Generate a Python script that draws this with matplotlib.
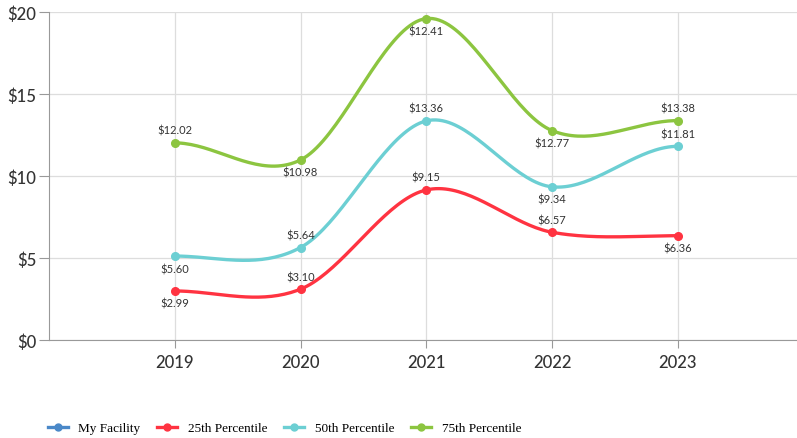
import numpy as np
import matplotlib.pyplot as plt
from matplotlib.lines import Line2D

years = ["2019", "2020", "2021", "2022", "2023"]

# point heights as drawn in the reference
p25 = [2.99, 3.10, 9.15, 6.57, 6.36]
p50 = [5.12, 5.64, 13.36, 9.34, 11.81]
p75 = [12.02, 10.98, 19.6, 12.77, 13.38]

# labels as printed
lab25 = ["$2.99", "$3.10", "$9.15", "$6.57", "$6.36"]
lab50 = ["$5.60", "$5.64", "$13.36", "$9.34", "$11.81"]
lab75 = ["$12.02", "$10.98", "$12.41", "$12.77", "$13.38"]

# label above (1) or below (-1) the point
pos25 = [-1, 1, 1, 1, -1]
pos50 = [-1, 1, 1, -1, 1]
pos75 = [1, -1, -1, -1, 1]

series = [
    ("25th Percentile", p25, lab25, pos25, "#ff3341"),
    ("50th Percentile", p50, lab50, pos50, "#6ccfd3"),
    ("75th Percentile", p75, lab75, pos75, "#8cc540"),
]


def spline(y, n=40):
    # cubic hermite through the points, flat at the ends
    y = np.asarray(y, float)
    x = np.arange(len(y), dtype=float)
    m = np.zeros_like(y)
    m[1:-1] = (y[2:] - y[:-2]) / 2
    xs, ys = [], []
    for i in range(len(y) - 1):
        t = np.linspace(0, 1, n)
        h00 = 2*t**3 - 3*t**2 + 1
        h10 = t**3 - 2*t**2 + t
        h01 = -2*t**3 + 3*t**2
        h11 = t**3 - t**2
        xs.append(x[i] + t)
        ys.append(h00*y[i] + h10*m[i] + h01*y[i+1] + h11*m[i+1])
    return np.concatenate(xs), np.concatenate(ys)


fig = plt.figure(figsize=(7.97, 4.39), dpi=100)
ax = fig.add_axes([0.0615, 0.2232, 0.9467, 0.7472])

x = np.arange(len(years))
for name, vals, labs, pos, col in series:
    sx, sy = spline(vals)
    ax.plot(sx, sy, color=col, lw=2.4, solid_capstyle="round", zorder=3)
    ax.plot(x, vals, "o", color=col, ms=5.5, zorder=4)
    for xi, v, t, p in zip(x, vals, labs, pos):
        ax.annotate(t, (xi, v), xytext=(0, 9 * p), textcoords="offset points",
                    ha="center", va="center", fontsize=8, color="#333333",
                    family="Lato", zorder=5)

ax.set_xlim(-1, 5)
ax.set_ylim(0, 20)
ax.set_xticks(x)
ax.set_xticklabels(years)
ax.set_yticks([0, 5, 10, 15, 20])
ax.set_yticklabels(["$0", "$5", "$10", "$15", "$20"])
ax.grid(True, color="#dddddd", lw=0.9)
ax.set_axisbelow(True)
for s in ["top", "right"]:
    ax.spines[s].set_visible(False)
for s in ["left", "bottom"]:
    ax.spines[s].set_color("#999999")
ax.tick_params(axis="y", length=7, color="#999999", labelsize=12,
               labelcolor="#333333", pad=2)
ax.tick_params(axis="x", length=6, color="#999999", labelsize=12,
               labelcolor="#333333", pad=4)
for lbl in ax.get_xticklabels() + ax.get_yticklabels():
    lbl.set_family("Lato")
    lbl.set_fontweight("medium")

handles = [Line2D([], [], color="#4a88c8", lw=2.4, marker="o", ms=5)]
names = ["My Facility"]
for name, vals, labs, pos, col in series:
    handles.append(Line2D([], [], color=col, lw=2.4, marker="o", ms=5))
    names.append(name)
fig.legend(handles, names, loc="center left", bbox_to_anchor=(0.045, 0.022),
           ncol=4, frameon=False, handlelength=1.5, columnspacing=1.3,
           handletextpad=0.8, prop={"family": "Liberation Serif", "size": 9.5})

fig.savefig("out.png", dpi=100)
